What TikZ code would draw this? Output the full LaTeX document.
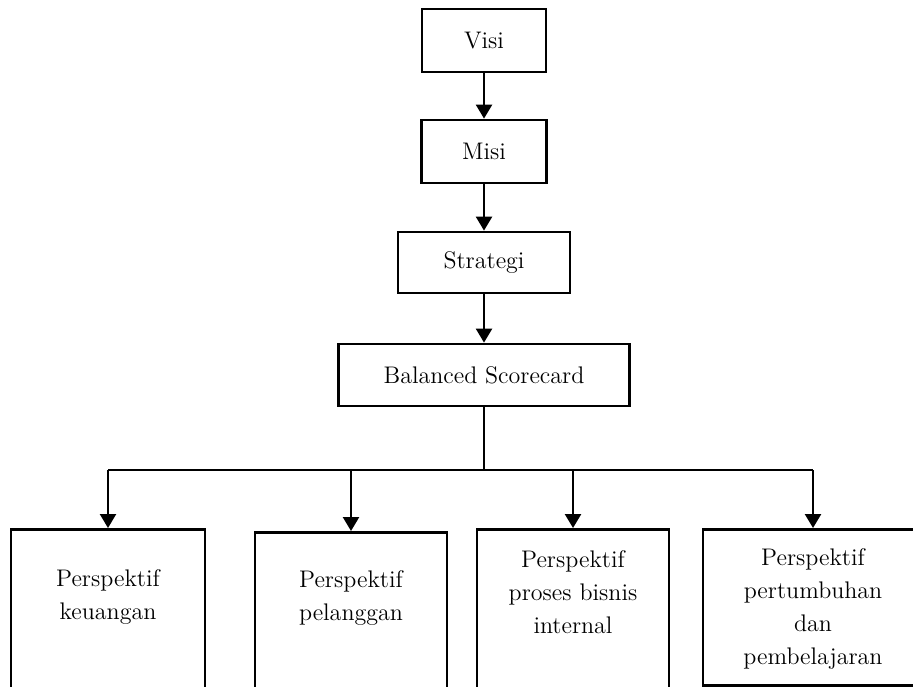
\documentclass[tikz,border=0pt]{standalone}
\usetikzlibrary{positioning,arrows.meta}
\tikzset{
  box/.style={rectangle, draw, line width=1.4pt, inner sep=3pt,
              font=\fontsize{12}{16.5}\selectfont},
  persp/.style={rectangle, draw, line width=1.4pt, anchor=north, align=center,
                inner xsep=3pt, inner ysep=0pt, text width=#1,
                font=\fontsize{12}{16.5}\selectfont},
  ar/.style={-{Triangle[length=7pt,width=8pt]}, line width=1.2pt},
  bus/.style={line width=0.6pt},
}
\begin{document}
\begin{tikzpicture}[x=0.5pt,y=-0.5pt]
  \clip (0,0) rectangle (913,686);

  % top chain
  \node[box, minimum width=62pt, minimum height=31.5pt] (visi) at (484,40.5) {Visi};
  \node[box, minimum width=62.5pt, minimum height=31.5pt] (misi) at (484,151.5) {Misi};
  \node[box, minimum width=86pt, minimum height=30.5pt] (strat) at (484,262.5) {Strategi};
  \node[box, minimum width=145.5pt, minimum height=31pt] (bsc) at (484,375) {Balanced Scorecard};

  \draw[ar] (visi) -- (misi);
  \draw[ar] (misi) -- (strat);
  \draw[ar] (strat) -- (bsc);

  % four perspectives
  \node[persp=91pt, text height=28.5pt, text depth=70pt] (keu) at (108,528)
    {Perspektif\\keuangan};
  \node[persp=90pt, text height=27.5pt, text depth=70pt] (pel) at (351,531)
    {Perspektif\\pelanggan};
  \node[persp=90pt, text height=19pt, text depth=70pt] (pbi) at (573,528)
    {Perspektif\\proses bisnis\\internal};
  \node[persp=104pt, text height=18pt, text depth=60pt] (ppb) at (813,528)
    {Perspektif\\pertumbuhan\\dan\\pembelajaran};

  % bus
  \coordinate (bus) at (484,470);
  \draw[bus] (bsc.south) -- (bus);
  \draw[bus] (keu.north |- bus) -- (ppb.north |- bus);
  \foreach \p in {keu,pel,pbi,ppb}
    \draw[ar] (\p.north |- bus) -- (\p.north);
\end{tikzpicture}
\end{document}
